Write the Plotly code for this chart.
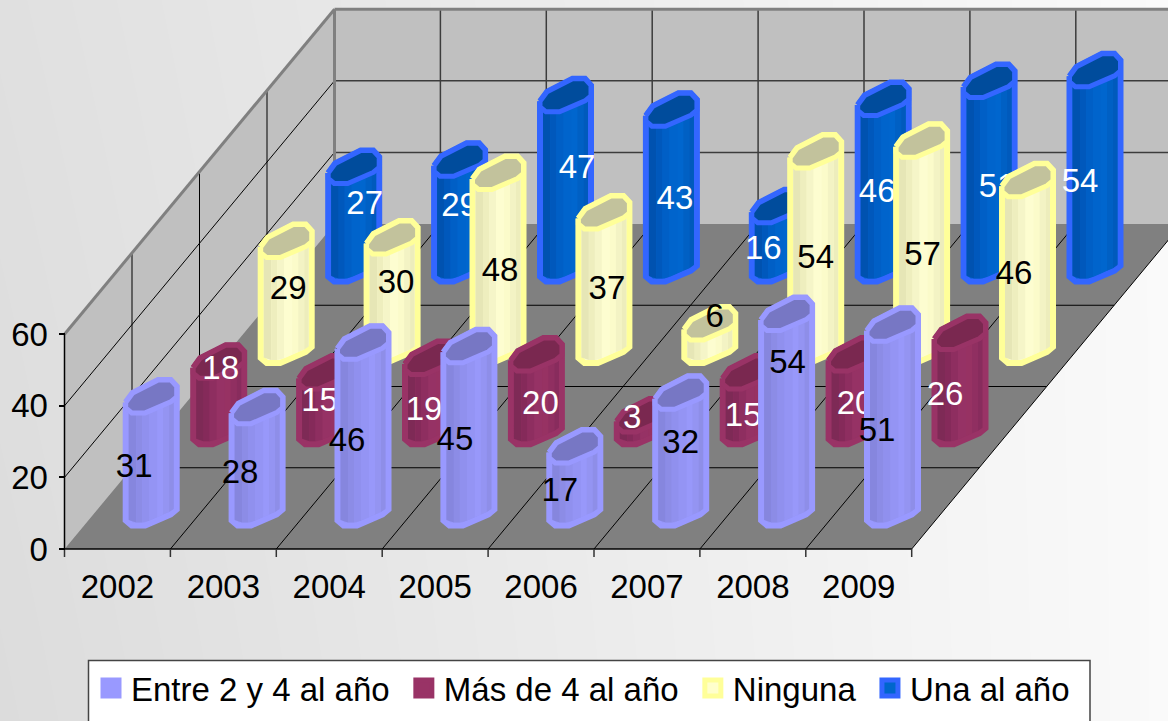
import numpy as np
import plotly.graph_objects as go

# ---- data ----
YEARS = ["2002", "2003", "2004", "2005", "2006", "2007", "2008", "2009"]
ENTRE = [31, 28, 46, 45, 17, 32, 54, 51]
MAS = [18, 15, 19, 20, 3, 15, 20, 26]
NINGUNA = [29, 30, 48, 37, 6, 54, 57, 46]
UNA = [27, 29, 47, 43, 16, 46, 51, 54]
NAMES = ["Entre 2 y 4 al año", "Más de 4 al año", "Ninguna", "Una al año"]
Y_TICKS = [0, 20, 40, 60]

# ---- label nudges (px, from the middle of each cylinder) ----
NUDGE_X = [[-17, -17, -16, -14, -15, 0, 1, -15.5],
           [2, -5, -6.5, 4, -10, -5, 1, -15],
           [2, 4, 2, 3, 5, 0, 1, -13.5],
           [11, 0, 11.5, 3.5, -14, -6, 8, -15]]
NUDGE_Y = [[14, 14, 15, 12, 13, -8, -49, 14],
           [-26, 0, 17, 12, -4, 15, 12, 14],
           [-5, -9, 11, 9, -18, 9, 11, 10],
           [-13, -7, -12.5, 11, 13, 9, 13, 14]]
LABEL_DROP = 2.0

# ---- styles ----
OUTLINE = ["#9999ff", "#993366", "#ffff99", "#3366ff"]
CAP = ["#7777c4", "#7a2850", "#c2c29c", "#004c9c"]
TEXT = ["black", "white", "black", "white"]
STRIPES = [
    ["#8686de", "#8c8ce6", "#9090ee", "#9494f4", "#9898fa", "#9494f2", "#8e8ee8"],
    ["#7e2a56", "#852a5a", "#8e2e60", "#963265", "#973263", "#902f61", "#882c5d"],
    ["#e6e6b6", "#eeeebe", "#f5f5c8", "#fdfdd0", "#fbfbca", "#f3f3c4", "#ededbc"],
    ["#0052b0", "#0058bc", "#005fc6", "#0064cc", "#0066ce", "#0060c4", "#005abc"],
]
EDGES = [-22.5, -15, -9, -2, 6, 12, 18, 22.5]
WIDTH, HEIGHT = 1168, 721
FONT = "Liberation Sans, Arial, sans-serif"
FS = 33

# ---- oblique projection: pixel scale of the axes ----
PX_X0, PX_CAT = 117.45, 105.9      # px of category 0, px per category
PX_Y0, PX_VAL = 549.0, 3.58        # px of value 0, px per value unit
DEPTH_X, DEPTH_Y = 270.0, 325.0    # px of the floor depth
BASE_DROP = 1.5
N = len(YEARS)


def dx(px):
    return px / PX_CAT


def dy(px):
    return px / PX_VAL


def X(px):
    return (px - PX_X0) / PX_CAT


def Y(px):
    return (PX_Y0 - px) / PX_VAL


# Cylinder cross-section (px offset, y downward)
CAP_UP = [(-25.5, 5), (-18.5, -4.5), (7, -17.5), (19.5, -17.5), (25.5, -11)]
CAP_LOW = [(25.5, -0.5), (19.5, 4.5), (-6, 15.5), (-19.5, 15.5), (-25.5, 10.5)]
LOW_X = [p[0] for p in CAP_LOW][::-1]
LOW_Y = [p[1] for p in CAP_LOW][::-1]


def slot(i, k):
    """Front-centre of series k at category i, in axis units."""
    f = (k + 0.5) / 4
    return i + dx(DEPTH_X * f), dy(DEPTH_Y * f)


def poly_traces(polys, **kw):
    xs, ys = [], []
    for p in polys:
        xs += [q[0] for q in p] + [p[0][0], None]
        ys += [q[1] for q in p] + [p[0][1], None]
    return go.Scatter(x=xs, y=ys, mode="lines", fill="toself", hoverinfo="skip",
                      showlegend=False, cliponaxis=True, **kw)


def seg_trace(segs, color, width):
    xs, ys = [], []
    for a, b in segs:
        xs += [a[0], b[0], None]
        ys += [a[1], b[1], None]
    return go.Scatter(x=xs, y=ys, mode="lines", line=dict(color=color, width=width),
                      hoverinfo="skip", showlegend=False)


fig = go.Figure()

# background gradient
fig.add_trace(go.Heatmap(x=[X(0), X(WIDTH)], y=[Y(0), Y(HEIGHT)],
                         z=[[0.13, 1.0], [0.0, 1.0]], zsmooth="best", showscale=False,
                         zmin=0, zmax=1, hoverinfo="skip",
                         colorscale=[[0, "#dcdcdc"], [1, "#fafafa"]]))

# legend entries (trailing no-break space widens the gap between entries)
SW_FILL = ["#9999ff", "#993366", "#ffffcc", "#0066cc"]
for j, (name, fc, oc) in enumerate(zip(NAMES, SW_FILL, OUTLINE)):
    fig.add_trace(go.Scatter(x=[None], y=[None], mode="markers",
                             name=name + ("\u00a0" if j < len(NAMES) - 1 else ""),
                             marker=dict(symbol="square", size=19, color=fc,
                                         line=dict(color=oc, width=5))))

# walls and floor
x_l, x_r = -0.5, N - 0.5
dxd, dyd = dx(DEPTH_X), dy(DEPTH_Y)
top = 60
fig.add_trace(poly_traces([[(x_l, 0), (x_l, top), (x_l + dxd, top + dyd), (x_l + dxd, dyd)]],
                          fillcolor="#c0c0c0", line=dict(width=0)))
fig.add_trace(poly_traces([[(x_l + dxd, dyd), (x_l + dxd, top + dyd), (x_r + dxd, top + dyd), (x_r + dxd, dyd)]],
                          fillcolor="#c0c0c0", line=dict(width=0)))
fig.add_trace(poly_traces([[(x_l, 0), (x_r, 0), (x_r + dxd, dyd), (x_l + dxd, dyd)]],
                          fillcolor="#808080", line=dict(width=0)))

segs_thin = []
for v in Y_TICKS[1:-1]:
    segs_thin.append(((x_l, v), (x_l + dxd, v + dyd)))
for f in (0.25, 0.5, 0.75):
    segs_thin.append(((x_l + dxd * f, dyd * f), (x_l + dxd * f, top + dyd * f)))
    segs_thin.append(((x_l + dxd * f, dyd * f), (x_r + dxd * f, dyd * f)))
for i in range(1, N + 1):
    segs_thin.append(((x_l + i, 0), (x_l + i + dxd, dyd)))
fig.add_trace(seg_trace(segs_thin, "#000000", 1))

segs_back = [((x_l + dxd, v + dyd), (x_r + dxd, v + dyd)) for v in Y_TICKS[1:-1]]
segs_back += [((x_l + i + dxd, dyd), (x_l + i + dxd, top + dyd)) for i in range(1, N)]
fig.add_trace(seg_trace(segs_back, "#3c3c3c", 1.5))

fig.add_trace(seg_trace([((x_l, top), (x_l + dxd, top + dyd)),
                         ((x_l + dxd, top + dyd), (x_r + dxd, top + dyd)),
                         ((x_l + dxd, dyd), (x_l + dxd, top + dyd))], "#808080", 3))

# axis lines and category ticks
fig.add_trace(seg_trace([((x_l, 0), (x_l, top)), ((x_l, 0), (x_r, 0))], "#000000", 1.5))
fig.add_trace(seg_trace([((x_l + i, 0), (x_l + i, -dy(8))) for i in range(N + 1)], "#333333", 1.5))

# cylinders, back to front
SERIES = [ENTRE, MAS, NINGUNA, UNA]
for k in [3, 2, 1, 0]:
    vals = SERIES[k]
    hulls, caps = [], []
    stripe_polys = [[] for _ in STRIPES[k]]
    tx, ty, tt = [], [], []
    for i, v in enumerate(vals):
        cx, base = slot(i, k)
        ytop = base + v
        low = base - dy(BASE_DROP)
        hulls.append([(cx + dx(a), ytop - dy(b)) for a, b in CAP_UP] +
                     [(cx + dx(a), low - dy(b)) for a, b in CAP_LOW])
        caps.append([(cx + dx(a), ytop - dy(b)) for a, b in CAP_UP + CAP_LOW])
        for s in range(len(STRIPES[k])):
            e0, e1 = EDGES[s], EDGES[s + 1]
            b0 = float(np.interp(e0, LOW_X, LOW_Y)) - 3
            b1 = float(np.interp(e1, LOW_X, LOW_Y)) - 3
            stripe_polys[s].append([(cx + dx(e0), ytop), (cx + dx(e1), ytop),
                                    (cx + dx(e1), low - dy(b1)), (cx + dx(e0), low - dy(b0))])
        tx.append(cx + dx(NUDGE_X[k][i]))
        ty.append(base + v / 2 - dy(NUDGE_Y[k][i] + LABEL_DROP))
        tt.append(str(v))
    fig.add_trace(poly_traces(hulls, fillcolor=STRIPES[k][3],
                              line=dict(color=OUTLINE[k], width=6)))
    for s, polys in enumerate(stripe_polys):
        fig.add_trace(poly_traces(polys, fillcolor=STRIPES[k][s], line=dict(width=0)))
    fig.add_trace(poly_traces(caps, fillcolor=CAP[k], line=dict(color=OUTLINE[k], width=5)))
    fig.add_trace(go.Scatter(x=tx, y=ty, text=tt, mode="text", textposition="middle center",
                             textfont=dict(family=FONT, size=FS, color=TEXT[k]),
                             hoverinfo="skip", showlegend=False))

fig.update_layout(
    width=WIDTH, height=HEIGHT, margin=dict(l=0, r=0, t=0, b=0, pad=0, autoexpand=False),
    paper_bgcolor="#f0f0f0", plot_bgcolor="rgba(0,0,0,0)",
    font=dict(family=FONT, size=FS, color="black"),
    xaxis=dict(range=[X(0), X(WIDTH)], domain=[0, 1], anchor="free",
               position=(HEIGHT - PX_Y0) / HEIGHT, tickmode="array",
               tickvals=list(range(N)), ticktext=YEARS, ticks="", showgrid=False,
               zeroline=False, showline=False, ticklabelstandoff=15,
               tickfont=dict(family=FONT, size=FS)),
    yaxis=dict(range=[Y(HEIGHT), Y(0)], domain=[0, 1], anchor="free",
               position=(PX_X0 - PX_CAT / 2) / WIDTH, tickmode="array",
               tickvals=Y_TICKS, ticks="outside", ticklen=6, tickcolor="#000000", tickwidth=1.5,
               showgrid=False, zeroline=False, showline=False, ticklabelstandoff=4,
               tickfont=dict(family=FONT, size=FS)),
    showlegend=True,
    legend=dict(orientation="h", x=91 / WIDTH, y=1 - 660 / HEIGHT, xanchor="left", yanchor="top",
                bgcolor="rgba(0,0,0,0)", borderwidth=0, font=dict(family=FONT, size=FS, color="black"),
                itemsizing="trace", traceorder="normal"),
    shapes=[dict(type="rect", xref="x", yref="y", x0=X(88.5), x1=X(1090), y0=Y(660.5), y1=Y(760),
                 fillcolor="white", line=dict(color="#444444", width=1.5), layer="above")],
)

fig.write_html("out.html", config={"displayModeBar": False},
               post_script="document.body.style.margin='0';document.body.style.overflow='hidden';")
